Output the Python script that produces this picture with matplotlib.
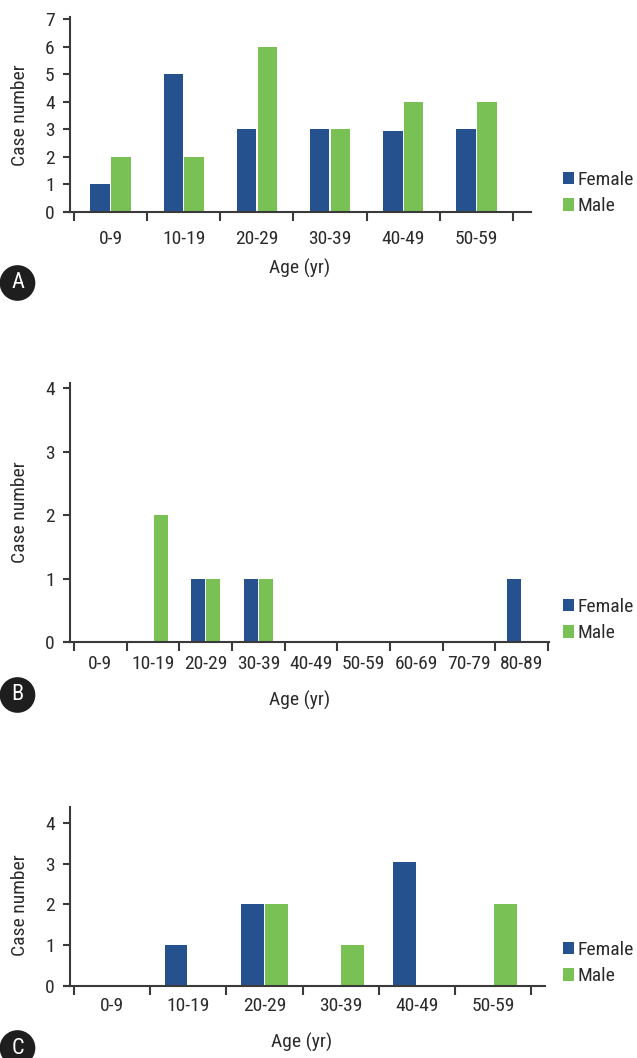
import matplotlib
matplotlib.use("Agg")
import matplotlib.pyplot as plt
from matplotlib import font_manager
from matplotlib.patches import Patch
import numpy as np

# ---------------- data ----------------
ages_a = ["0-9", "10-19", "20-29", "30-39", "40-49", "50-59"]
female_a = [1, 5, 3, 3, 2.92, 3]
male_a = [2, 2, 6, 3, 4, 4]
yticks_a = [0, 1, 2, 3, 4, 5, 6, 7]

ages_b = ["0-9", "10-19", "20-29", "30-39", "40-49", "50-59", "60-69", "70-79", "80-89"]
female_b = [0, 0, 1, 1, 0, 0, 0, 0, 1]
male_b = [0, 2, 1, 1, 0, 0, 0, 0, 0]
yticks_b = [0, 1, 2, 3, 4]

ages_c = ["0-9", "10-19", "20-29", "30-39", "40-49", "50-59"]
female_c = [0, 1, 2, 0, 3.04, 0]
male_c = [0, 0, 2, 1, 0, 2]
yticks_c = [0, 1, 2, 3, 4]

series_names = ["Female", "Male"]
panel_letters = ["A", "B", "C"]
xlabel_text = "Age (yr)"
ylabel_text = "Case number"

# ---------------- style ----------------
BLUE = "#25528F"
GREEN = "#79C155"
TEXT = "#2b2b2b"
AXC = "#3a3a3a"

names = {f.name for f in font_manager.fontManager.ttflist}
FONT = "Liberation Sans"
for cand in ["Roboto Condensed", "PT Sans Narrow", "Liberation Sans Narrow"]:
    if cand in names:
        FONT = cand
        break
plt.rcParams["font.family"] = [FONT, "DejaVu Sans"]

W, H = 637, 1058
DPI = 100
fig = plt.figure(figsize=(W / DPI, H / DPI), dpi=DPI)

FS = 14  # pt


def fx(p):
    return p / W


def fy(p):
    return 1 - p / H


def panel(cats, fem, mal, yticks, x_first, x_last, x_end, y0, y_top, y_top_val,
          bar_w, gap, tick_lab_y, xlab_y, xlab_x, leg_y, letter, letter_y, ylab_y):
    n = len(cats)
    catw = (x_last - x_first) / n
    left_px = 64
    ax = fig.add_axes([fx(left_px), fy(y0), fx(x_end - left_px), (y0 - y_top) / H])
    xmin = -0.5 - (x_first - left_px) / catw
    xmax = n - 0.5 + (x_end - x_last) / catw
    ax.set_xlim(xmin, xmax)
    ax.set_ylim(0, y_top_val)
    x = np.arange(n)
    off = bar_w / 2 + gap / 2
    ax.bar(x - off, fem, width=bar_w, color=BLUE, linewidth=0, zorder=2)
    ax.bar(x + off, mal, width=bar_w, color=GREEN, linewidth=0, zorder=2)

    for s in ["top", "right"]:
        ax.spines[s].set_visible(False)
    ax.spines["left"].set_position(("axes", (70 - left_px) / (x_end - left_px)))
    for s in ["left", "bottom"]:
        ax.spines[s].set_linewidth(1.5)
        ax.spines[s].set_color(AXC)
        ax.spines[s].set_zorder(3)

    ax.set_yticks(yticks)
    ax.set_yticklabels([str(t) for t in yticks])
    ax.tick_params(axis="y", direction="out", length=5, width=1.5, color=AXC,
                   labelsize=FS, labelcolor=TEXT, pad=6)
    ax.set_xticks(x)
    ax.set_xticklabels(cats)
    ax.set_xticks(np.arange(n + 1) - 0.5, minor=True)
    ax.tick_params(axis="x", which="major", length=0, labelsize=FS, labelcolor=TEXT,
                   pad=(tick_lab_y - y0 - 10) * 72 / DPI)
    ax.tick_params(axis="x", which="minor", direction="out", length=6.5, width=1.5, color=AXC)
    ax.patch.set_alpha(0)

    fig.text(fx(xlab_x), fy(xlab_y), xlabel_text, ha="center", va="center",
             fontsize=FS, color=TEXT)
    fig.text(fx(20.5), fy(ylab_y), ylabel_text, ha="center", va="center", rotation=90,
             fontsize=FS, color=TEXT)

    handles = [Patch(facecolor=BLUE, edgecolor="none"), Patch(facecolor=GREEN, edgecolor="none")]
    fig.legend(handles, series_names, loc="upper left",
               bbox_to_anchor=(fx(563), fy(leg_y)), frameon=False, fontsize=FS,
               handlelength=0.55, handleheight=0.62, handletextpad=0.2,
               labelspacing=0.42, borderpad=0, borderaxespad=0,
               labelcolor=TEXT)

    fig.text(fx(17.5), fy(letter_y), letter, ha="center", va="center", fontsize=16,
             color="white",
             bbox=dict(boxstyle="circle,pad=0.33", fc="#1e1e1e", ec="none"))
    return ax


panel(ages_a, female_a, male_a, yticks_a, 74, 513, 531, 212, 17, 7.07,
      0.265, 0.02, 240, 268, 300, 171, panel_letters[0], 283, 115)
panel(ages_b, female_b, male_b, yticks_b, 74, 548, 549, 642, 383, 4.08,
      0.266, 0.03, 665, 700, 300, 598, panel_letters[1], 695, 512)
panel(ages_c, female_c, male_c, yticks_c, 74, 531, 545, 986, 807, 4.39,
      0.30, 0.02, 1007, 1042, 302, 941, panel_letters[2], 1048, 905)

fig.savefig("out.png", dpi=DPI)
